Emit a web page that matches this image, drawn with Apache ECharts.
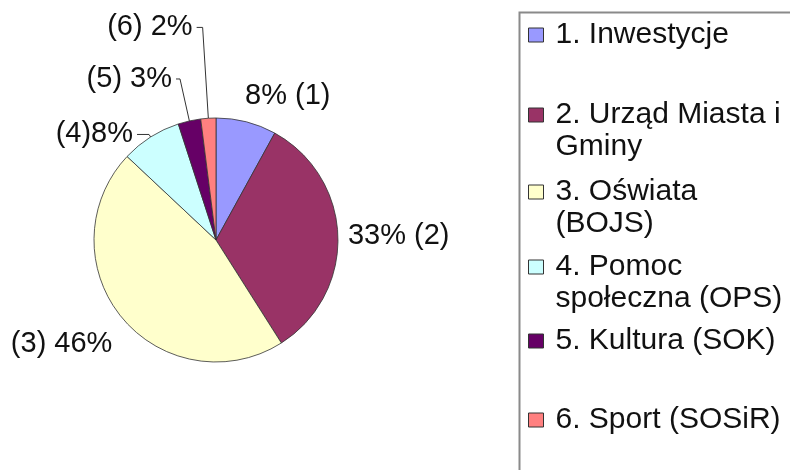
<!DOCTYPE html>
<html>
<head>
<meta charset="utf-8">
<script src="https://cdn.jsdelivr.net/npm/echarts@6/dist/echarts.min.js"></script>
<style>
html,body{margin:0;padding:0;background:#fff;}
#chart{width:790px;height:470px;}
</style>
</head>
<body>
<div id="chart"></div>
<script>
// ---- data ----
const categories = ['1. Inwestycje', '2. Urząd Miasta i Gminy', '3. Oświata (BOJS)', '4. Pomoc społeczna (OPS)', '5. Kultura (SOK)', '6. Sport (SOSiR)'];
const shares = [8, 33, 46, 8, 3, 2];
const legendTexts = ['1. Inwestycje', '2. Urząd Miasta i\nGminy', '3. Oświata\n(BOJS)', '4. Pomoc\nspołeczna (OPS)', '5. Kultura (SOK)', '6. Sport (SOSiR)'];
const labelTemplates = ['{v}% ({n})', '{v}% ({n})', '({n}) {v}%', '({n}){v}%', '({n}) {v}%', '({n}) {v}%'];

// ---- styling ----
const colors = ['#9999FF', '#993366', '#FFFFCC', '#CCFFFF', '#660066', '#FF8080'];
const lineLen = [27, 5, 41, 3, 43, 91];
const lineLen2 = [0, 0, 0, 12, 4, 6];
const lineVisible = [false, false, false, true, true, true];
const labelDist = [-8, 5, -22, 4, 4, 4];
const legendIconCenters = [35, 115, 192, 267, 341, 420];

const chart = echarts.init(document.getElementById('chart'), null, {renderer: 'canvas'});

const pieData = categories.map((name, i) => ({
  name: name,
  value: shares[i],
  itemStyle: {color: colors[i]},
  label: {
    formatter: labelTemplates[i].replace('{v}', shares[i]).replace('{n}', i + 1),
    distanceToLabelLine: labelDist[i]
  },
  labelLine: {
    show: true,
    length: lineLen[i],
    length2: lineLen2[i],
    lineStyle: {color: '#333', opacity: lineVisible[i] ? 1 : 0}
  }
}));

const legends = categories.map((name, i) => {
  const twoLine = legendTexts[i].indexOf('\n') >= 0;
  return {
    orient: 'vertical',
    left: 528,
    top: legendIconCenters[i] - (twoLine ? 48 : 16),
    padding: 0,
    itemWidth: 15,
    itemHeight: 14,
    icon: 'rect',
    selectedMode: false,
    data: [name],
    // leading blank line keeps the marker beside the first text line
    formatter: () => (twoLine ? '\n' : '') + legendTexts[i],
    itemStyle: {borderColor: '#333', borderWidth: 1},
    textStyle: {
      fontSize: 30,
      fontFamily: 'Liberation Sans, Arial, sans-serif',
      color: '#111',
      lineHeight: 32,
      padding: [0, 0, 0, 7]
    }
  };
});

chart.setOption({
  backgroundColor: '#fff',
  animation: false,
  graphic: [{
    type: 'rect',
    left: 517, top: 10,
    shape: {width: 320, height: 520},
    style: {fill: 'none', stroke: '#8a8a8a', lineWidth: 2},
    z: 0
  }],
  legend: legends,
  series: [{
    type: 'pie',
    center: [216, 240],
    radius: 122,
    startAngle: 90,
    clockwise: true,
    avoidLabelOverlap: false,
    itemStyle: {borderColor: '#333', borderWidth: 0.8},
    label: {
      position: 'outside',
      fontSize: 29,
      fontFamily: 'Liberation Sans, Arial, sans-serif',
      color: '#111'
    },
    labelLine: {
      smooth: false,
      lineStyle: {color: '#333', width: 1}
    },
    emphasis: {disabled: true},
    data: pieData
  }]
});
</script>
</body>
</html>
